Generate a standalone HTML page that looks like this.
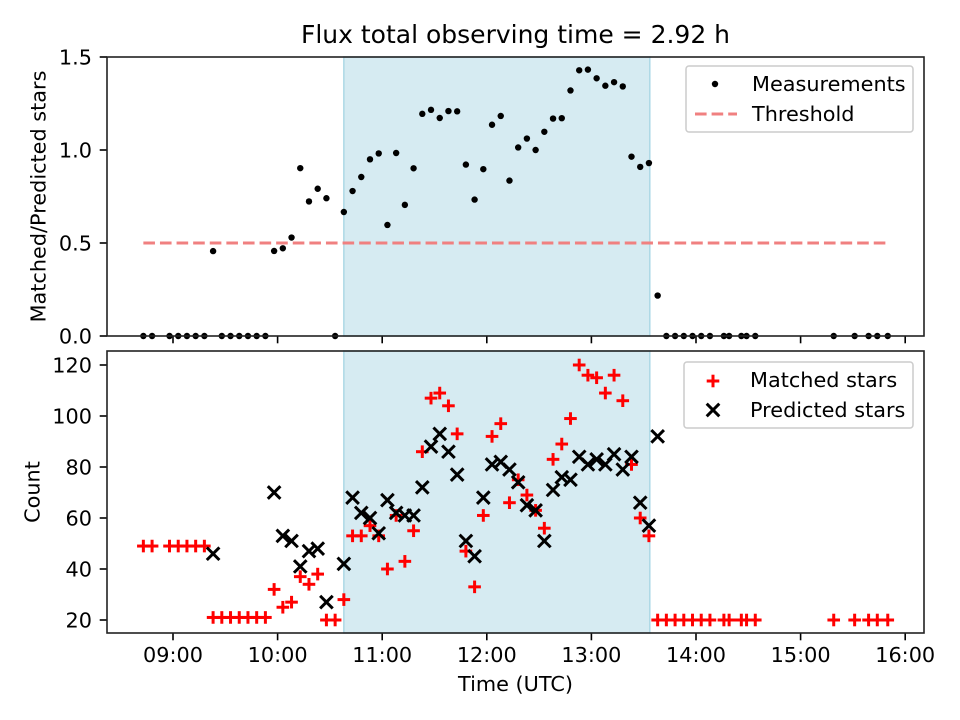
<!DOCTYPE html>
<html><head><meta charset="utf-8"><style>
html,body{margin:0;padding:0;background:#fff}
svg{display:block;font-family:"DejaVu Sans","Liberation Sans",sans-serif}
</style></head><body>
<svg id="chart" width="960" height="720" viewBox="0 0 960 720" xmlns="http://www.w3.org/2000/svg"></svg>
<script>
// minutes after 09:00 UTC
const times=[-17,-12,-2,3,8,13,18,23,28,33,38,43,48,53,58,63,68,73,78,83,88,93,98,103,108,113,118,123,128,133,138,143,148,153,158,163,168,173,178,183,188,193,198,203,208,213,218,223,228,233,238,243,248,253,258,263,268,273,278,283,288,293,298,303,308,316,319,326,329,334,379,391,399,404,410];
const matched=[49,49,49,49,49,49,49,21,21,21,21,21,21,21,32,25,27,37,34,38,20,20,28,53,53,57,53,40,61,43,55,86,107,109,104,93,47,33,61,92,97,66,75,69,63,56,83,89,99,120,116,115,109,116,106,81,60,53,20,20,20,20,20,20,20,20,20,20,20,20,20,20,20,20,20];
const predicted=[null,null,null,null,null,null,null,46,null,null,null,null,null,null,70,53,51,41,47,48,27,null,42,68,62,60,54,67,62,61,61,72,88,93,86,77,51,45,68,81,82,79,74,65,63,51,71,76,75,84,81,83,81,85,79,84,66,57,92,null,null,null,null,null,null,null,null,null,null,null,null,null,null,null,null];
const spanStart=98, spanEnd=273.5;
const threshold=0.5;
const xTickLabels=["09:00","10:00","11:00","12:00","13:00","14:00","15:00","16:00"];
const topYTicks=[0.0,0.5,1.0,1.5];
const botYTicks=[20,40,60,80,100,120];

const NS="http://www.w3.org/2000/svg";
const svg=document.getElementById('chart');
function el(tag,attrs,parent){const e=document.createElementNS(NS,tag);for(const k in attrs)e.setAttribute(k,attrs[k]);(parent||svg).appendChild(e);return e;}
const L=107,R=924;
const FS='20.8';
const X=m=>173+m/60*104.6;
const T={top:57,bot:336}, B={top:351,bot:633};
const yTop=v=>336-v*186;
const yBot=v=>620-(v-20)*2.55;
const DASH='11.6,5';

let t=el('text',{x:515.5,y:43,'text-anchor':'middle','font-size':'25'});t.textContent='Flux total observing time = 2.92 h';



function panel(P,yf,yticks,fmt,ylabel,prefix,ylx){
  const g=el('g',{});
  
  
  const s=el('rect',{x:X(spanStart),y:P.top,width:X(spanEnd)-X(spanStart),height:P.bot-P.top,fill:'#add8e6','fill-opacity':0.5,stroke:'#add8e6','stroke-width':1.5},g);
  
  
  yticks.forEach(v=>{
    const y=yf(v);
    el('line',{x1:L-7.3,x2:L,y1:y,y2:y,stroke:'#000','stroke-width':1.6},g);
    const tx=el('text',{x:L-15,y:y+7.5,'text-anchor':'end','font-size':FS},g);tx.textContent=fmt(v);
    
    
  });
  xTickLabels.forEach((lab,i)=>{
    const x=X(i*60);
    el('line',{x1:x,x2:x,y1:P.bot,y2:P.bot+7.3,stroke:'#000','stroke-width':1.6},g);
  });
  const yl=el('text',{transform:`translate(${ylx},${(P.top+P.bot)/2}) rotate(-90)`,'text-anchor':'middle','font-size':FS},g);
  yl.textContent=ylabel;
  
  
  return g;
}
const gTop=panel(T,yTop,topYTicks,v=>v.toFixed(1),'Matched/Predicted stars','top',45.5);
const gBot=panel(B,yBot,botYTicks,v=>String(v),'Count','bottom',39.5);

const th=el('line',{x1:X(times[0]),x2:X(times[times.length-1]),y1:yTop(threshold),y2:yTop(threshold),stroke:'#f08080','stroke-width':3,'stroke-dasharray':DASH},gTop);



times.forEach((m,i)=>{
  const r=predicted[i]?matched[i]/predicted[i]:0;
  const c=el('circle',{cx:X(m),cy:yTop(r),r:3.2,fill:'#000'},gTop);
  
  
});
function plus(x,y,col,p){const g=el('g',{stroke:col,'stroke-width':3},p);el('line',{x1:x-6.3,x2:x+6.3,y1:y,y2:y},g);el('line',{x1:x,x2:x,y1:y-6.3,y2:y+6.3},g);return g;}
function cross(x,y,col,p){const g=el('g',{stroke:col,'stroke-width':3},p);el('line',{x1:x-6.3,x2:x+6.3,y1:y-6.3,y2:y+6.3},g);el('line',{x1:x-6.3,x2:x+6.3,y1:y+6.3,y2:y-6.3},g);return g;}
times.forEach((m,i)=>{
  const g=plus(X(m),yBot(matched[i]),'#ff0000',gBot);
  
  
});
times.forEach((m,i)=>{
  if(predicted[i]==null)return;
  const g=cross(X(m),yBot(predicted[i]),'#000',gBot);
  
  
});

[T,B].forEach((P,k)=>{
  const f=el('rect',{x:L,y:P.top,width:R-L,height:P.bot-P.top,fill:'none',stroke:'#222','stroke-width':1.6});
  
  
});
xTickLabels.forEach((lab,i)=>{
  const tx=el('text',{x:X(i*60),y:662,'text-anchor':'middle','font-size':FS});tx.textContent=lab;
  
  
});
const xl=el('text',{x:515.5,y:691,'text-anchor':'middle','font-size':FS});xl.textContent='Time (UTC)';



const lg1=el('g',{});


el('rect',{x:686,y:66,width:227,height:66,rx:3,fill:'#fff','fill-opacity':0.8,stroke:'#ccc','stroke-width':1.5},lg1);
el('circle',{cx:715,cy:84,r:3.2,fill:'#000'},lg1);
let a=el('text',{x:752,y:91,'font-size':FS},lg1);a.textContent='Measurements';


el('line',{x1:695,x2:737,y1:114,y2:114,stroke:'#f08080','stroke-width':3,'stroke-dasharray':DASH},lg1);
a=el('text',{x:752,y:121,'font-size':FS},lg1);a.textContent='Threshold';



const lg2=el('g',{});


el('rect',{x:684,y:362,width:229,height:66,rx:3,fill:'#fff','fill-opacity':0.8,stroke:'#ccc','stroke-width':1.5},lg2);
plus(713,381,'#ff0000',lg2);
a=el('text',{x:750,y:387,'font-size':FS},lg2);a.textContent='Matched stars';


cross(713,410,'#000',lg2);
a=el('text',{x:750,y:417,'font-size':FS},lg2);a.textContent='Predicted stars';


</script>
</body></html>
